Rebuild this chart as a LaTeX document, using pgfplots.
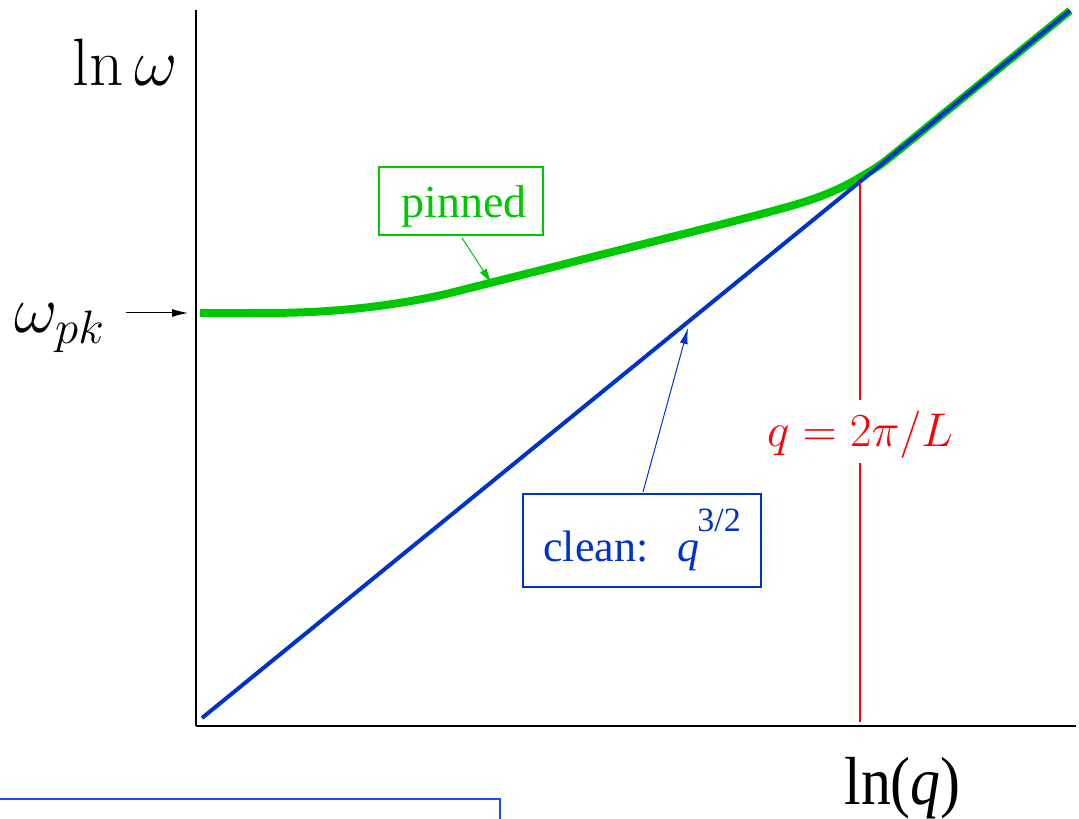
\RequirePackage{fix-cm}
\documentclass[border=0pt]{standalone}
\usepackage{fontspec}
\usepackage{pgfplots}
\pgfplotsset{compat=1.18}
\usetikzlibrary{arrows.meta}
\newfontfamily\tnr{Liberation Serif}
\definecolor{pinG}{RGB}{0,200,0}
\definecolor{cleanB}{RGB}{0,51,204}
\definecolor{boxB}{RGB}{40,70,255}

\begin{document}
\begin{tikzpicture}[x=0.5pt,y=0.5pt]
\path[use as bounding box] (0,0) rectangle (1079,818);
\begin{axis}[
  at={(196,92)}, anchor=south west,
  scale only axis, width=440pt, height=358pt,
  xmin=196, xmax=1076, ymin=92, ymax=808,
  axis lines=left, axis line style={-, line width=1pt, black},
  ticks=none, clip=false,
]
% pinned dispersion: flat at omega_pk, then joins the clean branch
\addplot[pinG, line width=4pt, smooth, tension=0.5] coordinates {
  (200,505) (250,505) (290,505.3) (320,506.5) (350,508.8) (380,512.2)
  (410,516.8) (440,522.6) (470,530) (500,537.6) (550,550.2) (600,563)
  (650,575.6) (700,588.2) (750,601) (780,609) (805,616.3) (825,623.4)
  (845,632.3) (862,641.8) (880,653) (900,668.8) (950,709.6) (1070,807.4)};
% clean dispersion, q^{3/2}
\addplot[cleanB, line width=2pt] coordinates {(202,100) (1070,807.4)};
% crossover wavevector q = 2pi/L, interrupted by its label
\addplot[red, line width=0.6pt] coordinates {(860,96) (860,355)};
\addplot[red, line width=0.6pt] coordinates {(860,418) (860,636)};

\node[anchor=base west, inner sep=0, font=\fontsize{33.5}{38}\selectfont] at (72,732) {$\ln\omega$};
\node[anchor=base west, inner sep=0, font=\fontsize{33.5}{38}\selectfont] at (14,485) {$\omega_{pk}$};
\draw[line width=0.5pt, -{Latex[length=8pt,width=4pt]}] (126,505) -- (188,505);

\draw[pinG, line width=0.8pt] (379,651) rectangle (543,583);
\node[anchor=base, inner sep=0, text=pinG, font=\tnr\fontsize{23}{28}\selectfont] at (464,600) {pinned};
\draw[pinG, line width=0.5pt, -{Latex[length=8pt,width=4pt]}] (462,580) -- (492,534);

\draw[cleanB, line width=0.8pt] (523,324) rectangle (761,231);
\node[anchor=base west, inner sep=0, text=cleanB, font=\tnr\fontsize{22}{26}\selectfont] at (543,256) {clean:};
\node[anchor=base west, inner sep=0, text=cleanB, font=\tnr\fontsize{22}{26}\selectfont] at (677,256) {\itshape q};
\node[anchor=base west, inner sep=0, text=cleanB, font=\tnr\fontsize{17}{20}\selectfont] at (697,286) {3/2};
\draw[cleanB, line width=0.5pt, -{Latex[length=8pt,width=4pt]}] (643,326) -- (688,490);

\node[anchor=base, inner sep=0, text=red, font=\fontsize{23.7}{28}\selectfont] at (860,371) {$q = 2\pi/L$};

\node[anchor=base west, inner sep=0, xscale=0.88, font=\tnr\fontsize{34}{40}\selectfont] at (844,14) {ln(\textit{q})};

\draw[boxB, line width=0.8pt] (-20,19) -- (500,19) -- (500,-30);
\end{axis}
\end{tikzpicture}
\end{document}
